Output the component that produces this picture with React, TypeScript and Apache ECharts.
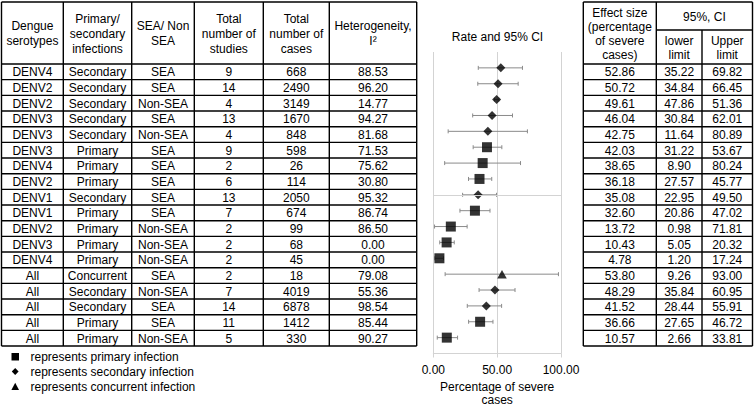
import React, { useEffect, useRef } from "react";
import * as echarts from "echarts";

// ---------- data ----------
const serotypes = ["DENV4","DENV2","DENV2","DENV3","DENV3","DENV3","DENV4","DENV2","DENV1","DENV1","DENV2","DENV3","DENV4","All","All","All","All","All"];
const infections = ["Secondary","Secondary","Secondary","Secondary","Secondary","Primary","Primary","Primary","Secondary","Primary","Primary","Primary","Primary","Concurrent","Secondary","Secondary","Primary","Primary"];
const regions = ["SEA","SEA","Non-SEA","SEA","Non-SEA","SEA","SEA","SEA","SEA","SEA","Non-SEA","Non-SEA","Non-SEA","SEA","Non-SEA","SEA","SEA","Non-SEA"];
const studies = [9,14,4,13,4,9,2,6,13,7,2,2,2,2,7,14,11,5];
const cases = [668,2490,3149,1670,848,598,26,114,2050,674,99,68,45,18,4019,6878,1412,330];
const heterogeneity = [88.53,96.20,14.77,94.27,81.68,71.53,75.62,30.80,95.32,86.74,86.50,0.00,0.00,79.08,55.36,98.54,85.44,90.27];
const effectSize = [52.86,50.72,49.61,46.04,42.75,42.03,38.65,36.18,35.08,32.60,13.72,10.43,4.78,53.80,48.29,41.52,36.66,10.57];
const lowerLimit = [35.22,34.84,47.86,30.84,11.64,31.22,8.90,27.57,22.95,20.86,0.98,5.05,1.20,9.26,35.84,28.44,27.65,2.66];
const upperLimit = [69.82,66.45,51.36,62.01,80.89,53.67,80.24,45.77,49.50,47.02,71.81,20.32,17.24,93.00,60.95,55.91,46.72,33.81];
// whiskers as drawn in the plot
const plotLower = [35.22,34.84,47.86,30.84,11.64,31.22,8.90,27.57,22.95,20.86,0.98,5.05,1.20,9.26,35.84,26.6,27.65,3.1];
const plotUpper = [69.82,66.45,51.36,62.01,73.7,53.67,68.3,45.77,49.50,44.4,26.5,16.4,8.0,98.0,64.0,53.5,46.72,19.0];
const xTicks = [0, 50, 100];
const refLineRow = 8;

const leftHeaders = ["Dengue\nserotypes", "Primary/\nsecondary\ninfections", "SEA/ Non\nSEA", "Total\nnumber of\nstudies", "Total\nnumber of\ncases", "Heterogeneity,\nI\u00B2"];
const legendItems = ["represents primary infection", "represents secondary infection", "represents concurrent infection"];

// ---------- layout ----------
const FONT = '"Liberation Sans", Arial, sans-serif';
const FS = 12;
const TOP = 2;
const HEAD_B = 64;
const ROW_H = 15.67;
const N = serotypes.length;
const BOTTOM = HEAD_B + ROW_H * N;
const LCOLS = [1.5, 63.3, 131.7, 194.3, 263.3, 329.3, 416.7];
const RCOLS = [583.3, 656.3, 702, 752.5];
const RMID = 30;
const LW = 1.4;

function line(x1: number, y1: number, x2: number, y2: number) {
  return { type: "line", silent: true, shape: { x1, y1, x2, y2 }, style: { stroke: "#000", lineWidth: LW } };
}
function txt(text: string, x: number, y: number, align = "center", lh = 15) {
  return {
    type: "text", silent: true, x, y,
    style: { text, align, verticalAlign: "middle", font: `${FS}px ${FONT}`, fill: "#000", lineHeight: lh },
  };
}

export default function App() {
  const ref = useRef<HTMLDivElement>(null);
  useEffect(() => {
    if (!ref.current) return;
    const chart = echarts.init(ref.current, null, { renderer: "svg" });
    const g: any[] = [];
    // left table lines
    g.push(line(LCOLS[0], TOP, LCOLS[6], TOP));
    g.push(line(LCOLS[0], HEAD_B, LCOLS[6], HEAD_B));
    for (let i = 1; i <= N; i++) g.push(line(LCOLS[0], HEAD_B + ROW_H * i, LCOLS[6], HEAD_B + ROW_H * i));
    LCOLS.forEach((x) => g.push(line(x, TOP, x, BOTTOM)));
    // right table lines
    g.push(line(RCOLS[0], TOP, RCOLS[3], TOP));
    g.push(line(RCOLS[1], RMID, RCOLS[3], RMID));
    g.push(line(RCOLS[0], HEAD_B, RCOLS[3], HEAD_B));
    for (let i = 1; i <= N; i++) g.push(line(RCOLS[0], HEAD_B + ROW_H * i, RCOLS[3], HEAD_B + ROW_H * i));
    g.push(line(RCOLS[0], TOP, RCOLS[0], BOTTOM));
    g.push(line(RCOLS[1], TOP, RCOLS[1], BOTTOM));
    g.push(line(RCOLS[2], RMID, RCOLS[2], BOTTOM));
    g.push(line(RCOLS[3], TOP, RCOLS[3], BOTTOM));
    // headers
    const hy = (TOP + HEAD_B) / 2 + 0.5;
    leftHeaders.forEach((h, c) => g.push(txt(h, (LCOLS[c] + LCOLS[c + 1]) / 2, hy, "center", 15)));
    g.push(txt("Effect size\n(percentage\nof severe\ncases)", (RCOLS[0] + RCOLS[1]) / 2, hy + 0.5, "center", 14.3));
    g.push(txt("95%, CI", (RCOLS[1] + RCOLS[3]) / 2, (TOP + RMID) / 2 + 0.5));
    g.push(txt("lower\nlimit", (RCOLS[1] + RCOLS[2]) / 2, (RMID + HEAD_B) / 2 + 0.5, "center", 14));
    g.push(txt("Upper\nlimit", (RCOLS[2] + RCOLS[3]) / 2, (RMID + HEAD_B) / 2 + 0.5, "center", 14));
    // rows
    for (let i = 0; i < N; i++) {
      const y = HEAD_B + ROW_H * (i + 0.5) + 0.5;
      const cells = [serotypes[i], infections[i], regions[i], String(studies[i]), String(cases[i]), heterogeneity[i].toFixed(2)];
      cells.forEach((s, c) => g.push(txt(s, (LCOLS[c] + LCOLS[c + 1]) / 2, y)));
      const rc = [effectSize[i].toFixed(2), lowerLimit[i].toFixed(2), upperLimit[i].toFixed(2)];
      rc.forEach((s, c) => g.push(txt(s, (RCOLS[c] + RCOLS[c + 1]) / 2, y)));
    }
    // chart title
    g.push(txt("Rate and 95% CI", 497.5, 37));
    // legend
    const ly = [356.5, 371.5, 386.5];
    legendItems.forEach((s, k) => g.push(txt(s, 30.5, ly[k], "left")));
    g.push({ type: "rect", silent: true, shape: { x: 11.5, y: ly[0] - 3.5, width: 7.5, height: 7.5 }, style: { fill: "#000" } });
    g.push({ type: "polygon", silent: true, shape: { points: [[15.2, ly[1] - 3.6], [18.6, ly[1]], [15.2, ly[1] + 3.6], [11.8, ly[1]]] }, style: { fill: "#000" } });
    g.push({ type: "polygon", silent: true, shape: { points: [[15.2, ly[2] - 3.8], [19, ly[2] + 3.6], [11.4, ly[2] + 3.6]] }, style: { fill: "#000" } });

    const idx = serotypes.map((_, i) => i);
    const pick = (t: string) => idx.filter((i) => infections[i] === t).map((i) => [effectSize[i], i]);
    const gray = "#d3d3d3";

    chart.setOption({
      animation: false,
      grid: { left: 433.3, top: 52, width: 127.7, height: 301.5, containLabel: false, outerBoundsMode: "none" },
      xAxis: {
        type: "value", min: xTicks[0], max: xTicks[2], interval: xTicks[1] - xTicks[0],
        axisLine: { show: true, onZero: false, lineStyle: { color: gray, width: 1 } },
        axisTick: { show: true, length: 4, lineStyle: { color: gray } },
        splitLine: { show: true, lineStyle: { color: gray, width: 1 } },
        axisLabel: { formatter: (v: number) => v.toFixed(2), color: "#000", fontSize: FS, fontFamily: FONT, margin: 10 },
        name: "Percentage of severe\ncases", nameLocation: "middle", nameGap: 26,
        nameTextStyle: { color: "#000", fontSize: FS, fontFamily: FONT, lineHeight: 13 },
      },
      yAxis: { type: "value", min: -1, max: N, inverse: true, show: false, splitLine: { show: false } },
      graphic: { elements: g },
      series: [
        {
          type: "custom",
          data: idx.map((i) => [plotLower[i], plotUpper[i], i]),
          encode: { x: [0, 1], y: 2 },
          renderItem: (params: any, api: any) => {
            const y = api.value(2);
            const a = api.coord([api.value(0), y]);
            const b = api.coord([api.value(1), y]);
            const st = { stroke: "#8a8a8a", lineWidth: 1 };
            const h = 2;
            return {
              type: "group",
              children: [
                { type: "line", shape: { x1: a[0], y1: a[1], x2: b[0], y2: b[1] }, style: st },
                { type: "line", shape: { x1: a[0], y1: a[1] - h, x2: a[0], y2: a[1] + h }, style: st },
                { type: "line", shape: { x1: b[0], y1: b[1] - h, x2: b[0], y2: b[1] + h }, style: st },
              ],
            };
          },
          z: 2,
        },
        {
          type: "scatter", data: pick("Primary"), symbol: "rect", symbolSize: 10,
          itemStyle: { color: "#000" }, z: 3,
          markLine: {
            silent: true, symbol: "none", label: { show: false },
            lineStyle: { color: gray, width: 1, type: "solid" },
            data: [{ yAxis: refLineRow }],
          },
        },
        { type: "scatter", data: pick("Secondary"), symbol: "diamond", symbolSize: 9, itemStyle: { color: "#000" }, z: 3 },
        { type: "scatter", data: pick("Concurrent"), symbol: "triangle", symbolSize: [9.5, 8.5], itemStyle: { color: "#000" }, z: 3 },
      ],
    });
    return () => chart.dispose();
  }, []);
  return <div ref={ref} style={{ position: "absolute", left: 0, top: 0, width: 755, height: 407, background: "#fff" }} />;
}
